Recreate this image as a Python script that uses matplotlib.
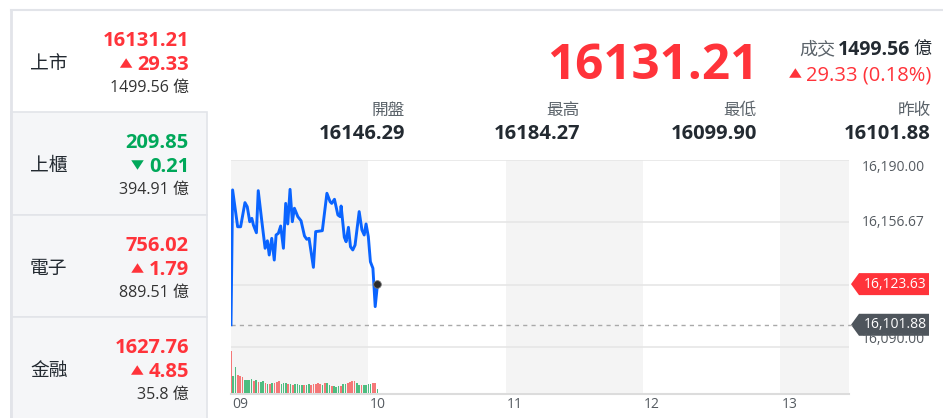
import matplotlib
matplotlib.use('Agg')
import matplotlib.pyplot as plt
from matplotlib.patches import Rectangle, Polygon
from matplotlib.transforms import blended_transform_factory
import numpy as np

plt.rcParams['font.family'] = ['Open Sans', 'Noto Sans CJK TC', 'DejaVu Sans']

# ---------------- data ----------------
markets = ['上市', '上櫃', '電子', '金融']
market_vals = ['16131.21', '209.85', '756.02', '1627.76']
market_chg = [29.33, -0.21, 1.79, 4.85]
market_vol = ['1499.56', '394.91', '889.51', '35.8']

last_price = '16131.21'
turnover = '1499.56'
change_text = '29.33 (0.18%)'
stat_labels = ['開盤', '最高', '最低', '昨收']
stat_values = ['16146.29', '16184.27', '16099.90', '16101.88']
prev_close = 16101.88
last_tick = 16123.63

hour_labels = ['09', '10', '11', '12', '13']
hour_minutes = [0, 60, 120, 180, 240]
grid_prices = [16190.00, 16156.67, 16123.33, 16090.00]

# minutes after 09:00, index value
line_minutes = [0, 0.7, 2.9, 4.2, 6.1, 7.1, 8.2, 9.1, 9.8, 11.1, 11.9, 13.4, 14.9, 15.9,
                16.7, 17.8, 18.9, 19.7, 20.7, 21.7, 22.9, 23.9, 24.8, 25.8, 26.8, 27.7,
                29.2, 30.6, 32.1, 33.1, 34.1, 36.0, 37.0, 39.9, 41.9, 43.3, 44.0, 45.2,
                46.7, 47.7, 48.1, 49.5, 50.3, 51.3, 52.2, 53.2, 54.2, 56.0, 57.2, 58.2,
                59.0, 60.0, 60.9, 62.0, 63.0, 64.0]
line_prices = [16101.88, 16174.0, 16154.3, 16154.3, 16167.2, 16165.0, 16157.0, 16158.8,
               16155.2, 16151.1, 16173.6, 16157.9, 16142.8, 16146.8, 16139.2, 16148.1,
               16136.5, 16149.9, 16150.8, 16154.7, 16142.8, 16166.8, 16155.8, 16174.3,
               16157.0, 16164.2, 16159.7, 16157.5, 16149.4, 16147.6, 16148.1, 16132.6,
               16151.7, 16152.2, 16172.2, 16167.7, 16166.8, 16169.0, 16160.6, 16159.7,
               16165.4, 16148.7, 16146.3, 16154.0, 16143.6, 16141.9, 16144.5, 16162.4,
               16152.6, 16149.9, 16155.8, 16149.0, 16135.6, 16132.1, 16111.6, 16123.63]

volumes = [125, 50, 78, 55, 50, 48, 40, 38, 40, 42, 35, 38, 32, 34, 36, 30, 28, 28, 30, 30,
           34, 36, 27, 30, 29, 27, 26, 24, 27, 27, 24, 24, 24, 23, 26, 25, 26, 28, 29, 27,
           23, 29, 30, 24, 22, 22, 19, 20, 21, 27, 27, 30, 32, 36, 35, 30, 23, 25, 24, 23,
           27, 28, 29, 29, 12]
vol_dir = 'rggrrrggggrgrggrgrgrrrgggrgrggggrggrrrrrgrggrgggrggrrrrggrggggr'

# ---------------- colours ----------------
RED = '#ff333a'
GREEN = '#00a85a'
DARK = '#232a31'
GRAY = '#5b636a'
BORDER = '#e2e4e9'

W, H = 943, 418
fig = plt.figure(figsize=(W / 100, H / 100), dpi=100)
bg = fig.add_axes([0, 0, 1, 1])
bg.set_xlim(0, W)
bg.set_ylim(H, 0)
bg.axis('off')
renderer = fig.canvas.get_renderer()


def put(x, yc, s, size, color, weight='normal', ha='right', z=5):
    base = yc + 0.357 * size * 100 / 72
    t = bg.text(x, base, s, fontsize=size, color=color, fontweight=weight,
                ha=ha, va='baseline', zorder=z)
    return t


def width_of(t):
    return t.get_window_extent(renderer).width


def triangle(xr, yc, up, color, w=12.5, h=9.5):
    if up:
        pts = [(xr - w, yc + h / 2), (xr, yc + h / 2), (xr - w / 2, yc - h / 2)]
    else:
        pts = [(xr - w, yc - h / 2), (xr, yc - h / 2), (xr - w / 2, yc + h / 2)]
    bg.add_patch(Polygon(pts, closed=True, facecolor=color, edgecolor='none', zorder=5))


# ---------------- left cards ----------------
bg.plot([11, W], [9.5, 9.5], color=BORDER, lw=1.5, zorder=3)
card_tops = [10, 112, 215, 317]
for i, top in enumerate(card_tops):
    h = (card_tops[i + 1] if i + 1 < len(card_tops) else 420) - top
    if i > 0:
        bg.add_patch(Rectangle((11, top), 196, h, facecolor='#f5f6f8',
                               edgecolor=BORDER, lw=1.2, zorder=1))
    col = RED if market_chg[i] > 0 else GREEN
    put(30, top + 52, markets[i], 13.5, DARK, ha='left')
    put(189, top + 29, market_vals[i], 14.5, col, weight='bold')
    t = put(189, top + 53, f'{abs(market_chg[i]):.2f}', 14.5, col, weight='bold')
    triangle(189 - width_of(t) - 5, top + 53, market_chg[i] > 0, col)
    put(189, top + 76, market_vol[i] + ' 億', 11.5, '#333333')
bg.plot([11, 11], [9.5, 418], color=BORDER, lw=2, zorder=3)

# ---------------- header ----------------
put(758, 61, last_price, 35.5, RED, weight='bold')
t1 = put(931, 48, '億', 13, DARK)
t2 = put(931 - width_of(t1) - 3, 48, turnover, 14, DARK, weight='bold')
put(931 - width_of(t1) - width_of(t2) - 5, 48, '成交', 13, GRAY)
t3 = put(931, 73, change_text, 14.5, RED)
triangle(931 - width_of(t3) - 4, 73, True, RED)

stat_x = [405, 580, 757, 931]
for x, lab, val in zip(stat_x, stat_labels, stat_values):
    put(x, 109, lab, 12, GRAY)
    put(x, 132, val, 14.5, DARK, weight='bold')

# ---------------- chart ----------------
L, R, T, B = 231, 849, 160, 393
ax = fig.add_axes([L / W, 1 - B / H, (R - L) / W, (B - T) / H])
ax.set_xlim(0, 270)
ax.set_ylim(16090 - 46 / 1.87, 16190)
ax.axis('off')
for a, b in [(0, 60), (120, 180), (240, 270)]:
    ax.axvspan(a, b, color='#f4f4f4', lw=0, zorder=0)
for gp in grid_prices:
    ax.axhline(gp, color='#e6e6e6', lw=1.2, zorder=1)
ax.axhline(prev_close, color='#a9a9a9', lw=1, ls=(0, (3, 3)), zorder=2, xmax=1.01, clip_on=False)
ax.plot(line_minutes, line_prices, color='#0a64ff', lw=2.1, zorder=4, solid_joinstyle='round')
ax.plot([line_minutes[-1]], [line_prices[-1]], 'o', color='#2a2a2a', ms=5.5,
        mec='#777777', mew=0.6, zorder=5)

vax = fig.add_axes([L / W, 1 - B / H, (R - L) / W, 46 / H])
vax.set_xlim(0, 270)
vax.set_ylim(0, 138)
vax.axis('off')
vcols = ['#f46a6a' if c == 'r' else '#3cb774' for c in vol_dir]
vax.bar(np.arange(len(volumes)), volumes, width=0.72, color=vcols, alpha=0.9, zorder=3)
bg.plot([L, R], [B + 0.5, B + 0.5], color='#dcdcdc', lw=1.5, zorder=6)

# x labels
for m, lab in zip(hour_minutes, hour_labels):
    xd = ax.transData.transform((m, 0))[0]
    bg.text(xd + 1, 405, lab, fontsize=10, color='#555b61', ha='left', va='center')

# y labels
btr = blended_transform_factory(ax.transAxes, ax.transData)
yl_x = 1 + (862 - R) / (R - L)
ax.text(yl_x, grid_prices[0], '16,190.00', transform=btr, va='top', ha='left',
        fontsize=10, color='#555b61', clip_on=False)
ax.text(yl_x, grid_prices[1], '16,156.67', transform=btr, va='center', ha='left',
        fontsize=10, color='#555b61', clip_on=False)
ax.text(yl_x, grid_prices[3], '16,090.00', transform=btr, va='bottom', ha='left',
        fontsize=10, color='#555b61', clip_on=False)


def tag(price, text, color):
    yd = ax.transData.transform((0, price))
    y = bg.transData.inverted().transform(yd)[1]
    x0, x1 = 851, 929
    pts = [(x0, y), (x0 + 8, y - 11), (x1, y - 11), (x1, y + 11), (x0 + 8, y + 11)]
    bg.add_patch(Polygon(pts, closed=True, facecolor=color, edgecolor='none', zorder=8))
    bg.text((x0 + 8 + x1) / 2 + 1, y, text, fontsize=10, color='white', ha='center',
            va='center', zorder=9)


tag(prev_close, f'{prev_close:,.2f}', '#4e555c')
tag(last_tick, f'{last_tick:,.2f}', RED)

fig.savefig('out.png', dpi=100)
